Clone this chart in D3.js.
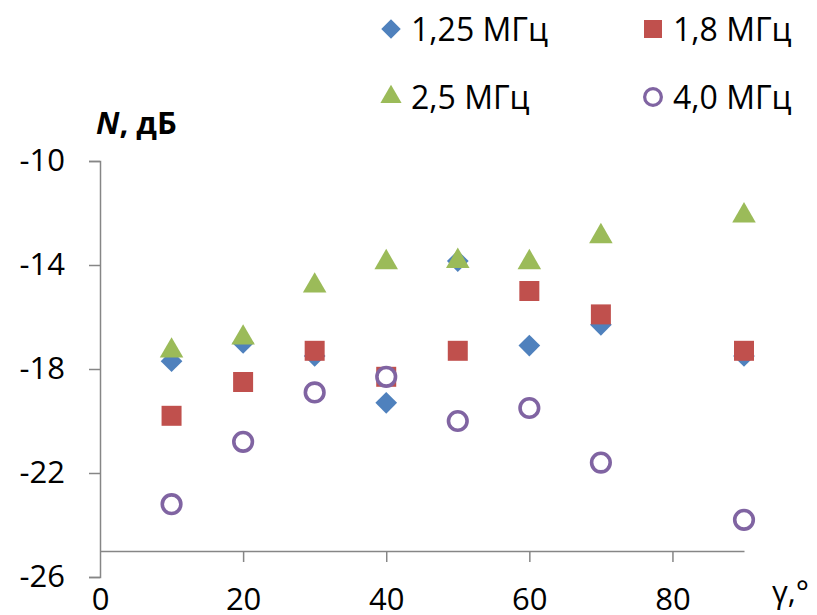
<!DOCTYPE html>
<html>
<head>
<meta charset="utf-8">
<script src="https://cdn.jsdelivr.net/npm/d3@7"></script>
<style>
  body { margin: 0; background: #fff; }
  svg text { font-family: "Open Sans", sans-serif; fill: #000; }
</style>
</head>
<body>
<svg id="chart" width="817" height="615"></svg>
<script>
// angle, degrees
const angles = [10, 20, 30, 40, 50, 60, 70, 90];
// N, dB per frequency
const f125 = [-17.7, -17.0, -17.5, -19.3, -13.85, -17.1, -16.3, -17.5];
const f18 = [-19.8, -18.5, -17.3, -18.3, -17.3, -15.0, -15.9, -17.3];
const f25 = [-17.3, -16.8, -14.8, -13.9, -13.85, -13.9, -12.9, -12.1];
const f40 = [-23.2, -20.8, -18.9, -18.3, -20.0, -19.5, -21.6, -23.8];

const seriesNames = ["1,25 МГц", "1,8 МГц", "2,5 МГц", "4,0 МГц"];
const xTicks = [0, 20, 40, 60, 80];
const yTicks = [-10, -14, -18, -22, -26];

const colors = ["#4F81BD", "#C0504D", "#9BBB59", "#8064A2"];
const shapes = ["diamond", "square", "triangle", "circle"];
const series = [f125, f18, f25, f40];

const svg = d3.select("#chart");
const axisColor = "#868686";
const font = "'Open Sans', sans-serif";

const x = d3.scaleLinear().domain([0, 90]).range([100, 744]);
const y = d3.scaleLinear().domain([-26, -10]).range([577, 161]);

// y axis, ticks outwards
const yAxis = svg.append("g")
    .attr("transform", "translate(100,0)")
    .call(d3.axisLeft(y).tickValues(yTicks).tickFormat(d => d).tickSize(11).tickPadding(24));
yAxis.select(".domain").attr("stroke", axisColor).attr("stroke-width", 1.5);
yAxis.selectAll(".tick line").attr("stroke", axisColor).attr("stroke-width", 1.5);
yAxis.selectAll(".tick text").attr("font-size", 31).attr("font-family", font).attr("fill", "#000");

// x axis line crosses at -25
const xAxis = svg.append("g")
    .attr("transform", `translate(0,${y(-25)})`)
    .call(d3.axisBottom(x).tickValues(xTicks).tickFormat(d => d).tickSize(11).tickSizeOuter(0).tickPadding(26));
xAxis.select(".domain").attr("stroke", axisColor).attr("stroke-width", 1.5);
xAxis.selectAll(".tick line").attr("stroke", axisColor).attr("stroke-width", 1.5);
xAxis.selectAll(".tick text").attr("font-size", 31).attr("font-family", font).attr("fill", "#000");
xAxis.selectAll(".tick").filter(d => d === 0).select("line").remove();

// axis titles
const yTitle = svg.append("text").attr("x", 96).attr("y", 134).attr("font-size", 31).attr("font-weight", "bold");
yTitle.append("tspan").attr("font-style", "italic").text("N");
yTitle.append("tspan").text(", дБ");

svg.append("text").attr("x", 772).attr("y", 603).attr("font-size", 31).text("γ,°");

function marker(sel, shape, color) {
  if (shape === "circle") {
    sel.append("circle").attr("r", 9.3).attr("fill", "#fff")
      .attr("stroke", color).attr("stroke-width", 3.6);
  } else {
    const sym = { diamond: d3.symbolDiamond2, square: d3.symbolSquare, triangle: d3.symbolTriangle }[shape];
    const size = { diamond: 300, square: 400, triangle: 240 }[shape];
    sel.append("path").attr("d", d3.symbol(sym, size)).attr("fill", color);
  }
}

series.forEach((vals, i) => {
  const g = svg.append("g");
  vals.forEach((v, j) => {
    const m = g.append("g").attr("transform", `translate(${x(angles[j])},${y(v)})`);
    marker(m, shapes[i], colors[i]);
  });
});

// legend
const legendPos = [[391, 29], [653, 29], [391, 97], [653, 97]];
seriesNames.forEach((name, i) => {
  const g = svg.append("g").attr("transform", `translate(${legendPos[i][0]},${legendPos[i][1]})`);
  const m = g.append("g").attr("transform", "scale(0.9)");
  marker(m, shapes[i], colors[i]);
  g.append("text").attr("x", 20).attr("y", 0).attr("dy", "0.36em").attr("font-size", 32).text(name);
});
</script>
</body>
</html>
